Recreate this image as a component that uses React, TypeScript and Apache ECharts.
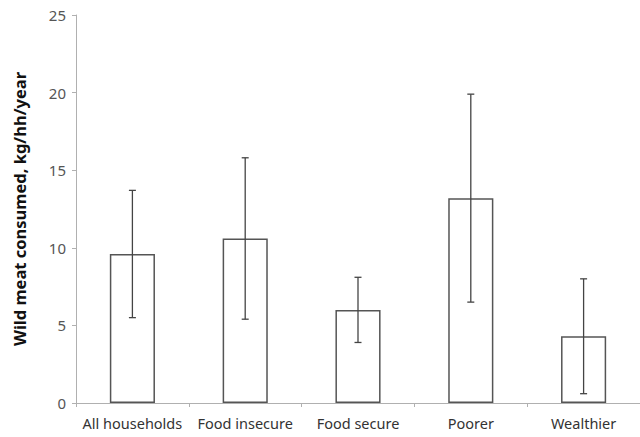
import React, { useEffect, useRef } from "react";
import * as echarts from "echarts";

const categories = ["All households", "Food insecure", "Food secure", "Poorer", "Wealthier"];
const meanValues = [9.6, 10.6, 6.0, 13.2, 4.3];
const errorLow = [5.5, 5.4, 3.9, 6.5, 0.6];
const errorHigh = [13.7, 15.8, 8.1, 19.9, 8.0];
const yTicks = [0, 5, 10, 15, 20, 25];

export default function App() {
  const ref = useRef<HTMLDivElement>(null);
  useEffect(() => {
    if (!ref.current) return;
    const chart = echarts.init(ref.current, null, { renderer: "svg" });
    const errData = categories.map((_, i) => [i, errorLow[i], errorHigh[i]]);
    chart.setOption({
      animation: false,
      grid: { left: 76, top: 15, bottom: 34, right: -4, containLabel: false },
      xAxis: {
        type: "category",
        data: categories,
        axisLine: { lineStyle: { color: "#b0b0b0", width: 1 } },
        axisTick: { show: true, alignWithLabel: false, length: 4, lineStyle: { color: "#b0b0b0" } },
        axisLabel: { color: "#333", fontSize: 14.5, fontFamily: "Noto Sans", margin: 12, interval: 0, hideOverlap: false },
      },
      yAxis: {
        type: "value",
        min: yTicks[0],
        max: yTicks[yTicks.length - 1],
        interval: 5,
        name: "Wild meat consumed, kg/hh/year",
        nameLocation: "middle",
        nameGap: 48,
        nameTextStyle: { color: "#111", fontSize: 16.5, fontWeight: "bold", fontFamily: "Noto Sans" },
        axisLine: { show: true, lineStyle: { color: "#b0b0b0", width: 1 } },
        axisTick: { show: true, length: 4, lineStyle: { color: "#b0b0b0" } },
        splitLine: { show: false },
        axisLabel: { color: "#555", fontSize: 15, fontFamily: "Noto Sans", margin: 10 },
      },
      series: [
        {
          type: "bar",
          data: meanValues,
          barWidth: "40%",
          itemStyle: { color: "#fff", borderColor: "#555", borderWidth: 1.5 },
        },
        {
          type: "custom",
          data: errData,
          z: 10,
          renderItem: (params: any, api: any) => {
            const x = api.value(0);
            const lo = api.coord([x, api.value(1)]);
            const hi = api.coord([x, api.value(2)]);
            const cap = 3.5;
            const style = { stroke: "#444", lineWidth: 1.3 };
            return {
              type: "group",
              children: [
                { type: "line", shape: { x1: hi[0], y1: hi[1], x2: lo[0], y2: lo[1] }, style },
                { type: "line", shape: { x1: hi[0] - cap, y1: hi[1], x2: hi[0] + cap, y2: hi[1] }, style },
                { type: "line", shape: { x1: lo[0] - cap, y1: lo[1], x2: lo[0] + cap, y2: lo[1] }, style },
              ],
            };
          },
        },
      ],
    });
    return () => chart.dispose();
  }, []);
  return <div ref={ref} style={{ width: 640, height: 437, position: "fixed", left: 0, top: 0, background: "#fff" }} />;
}
